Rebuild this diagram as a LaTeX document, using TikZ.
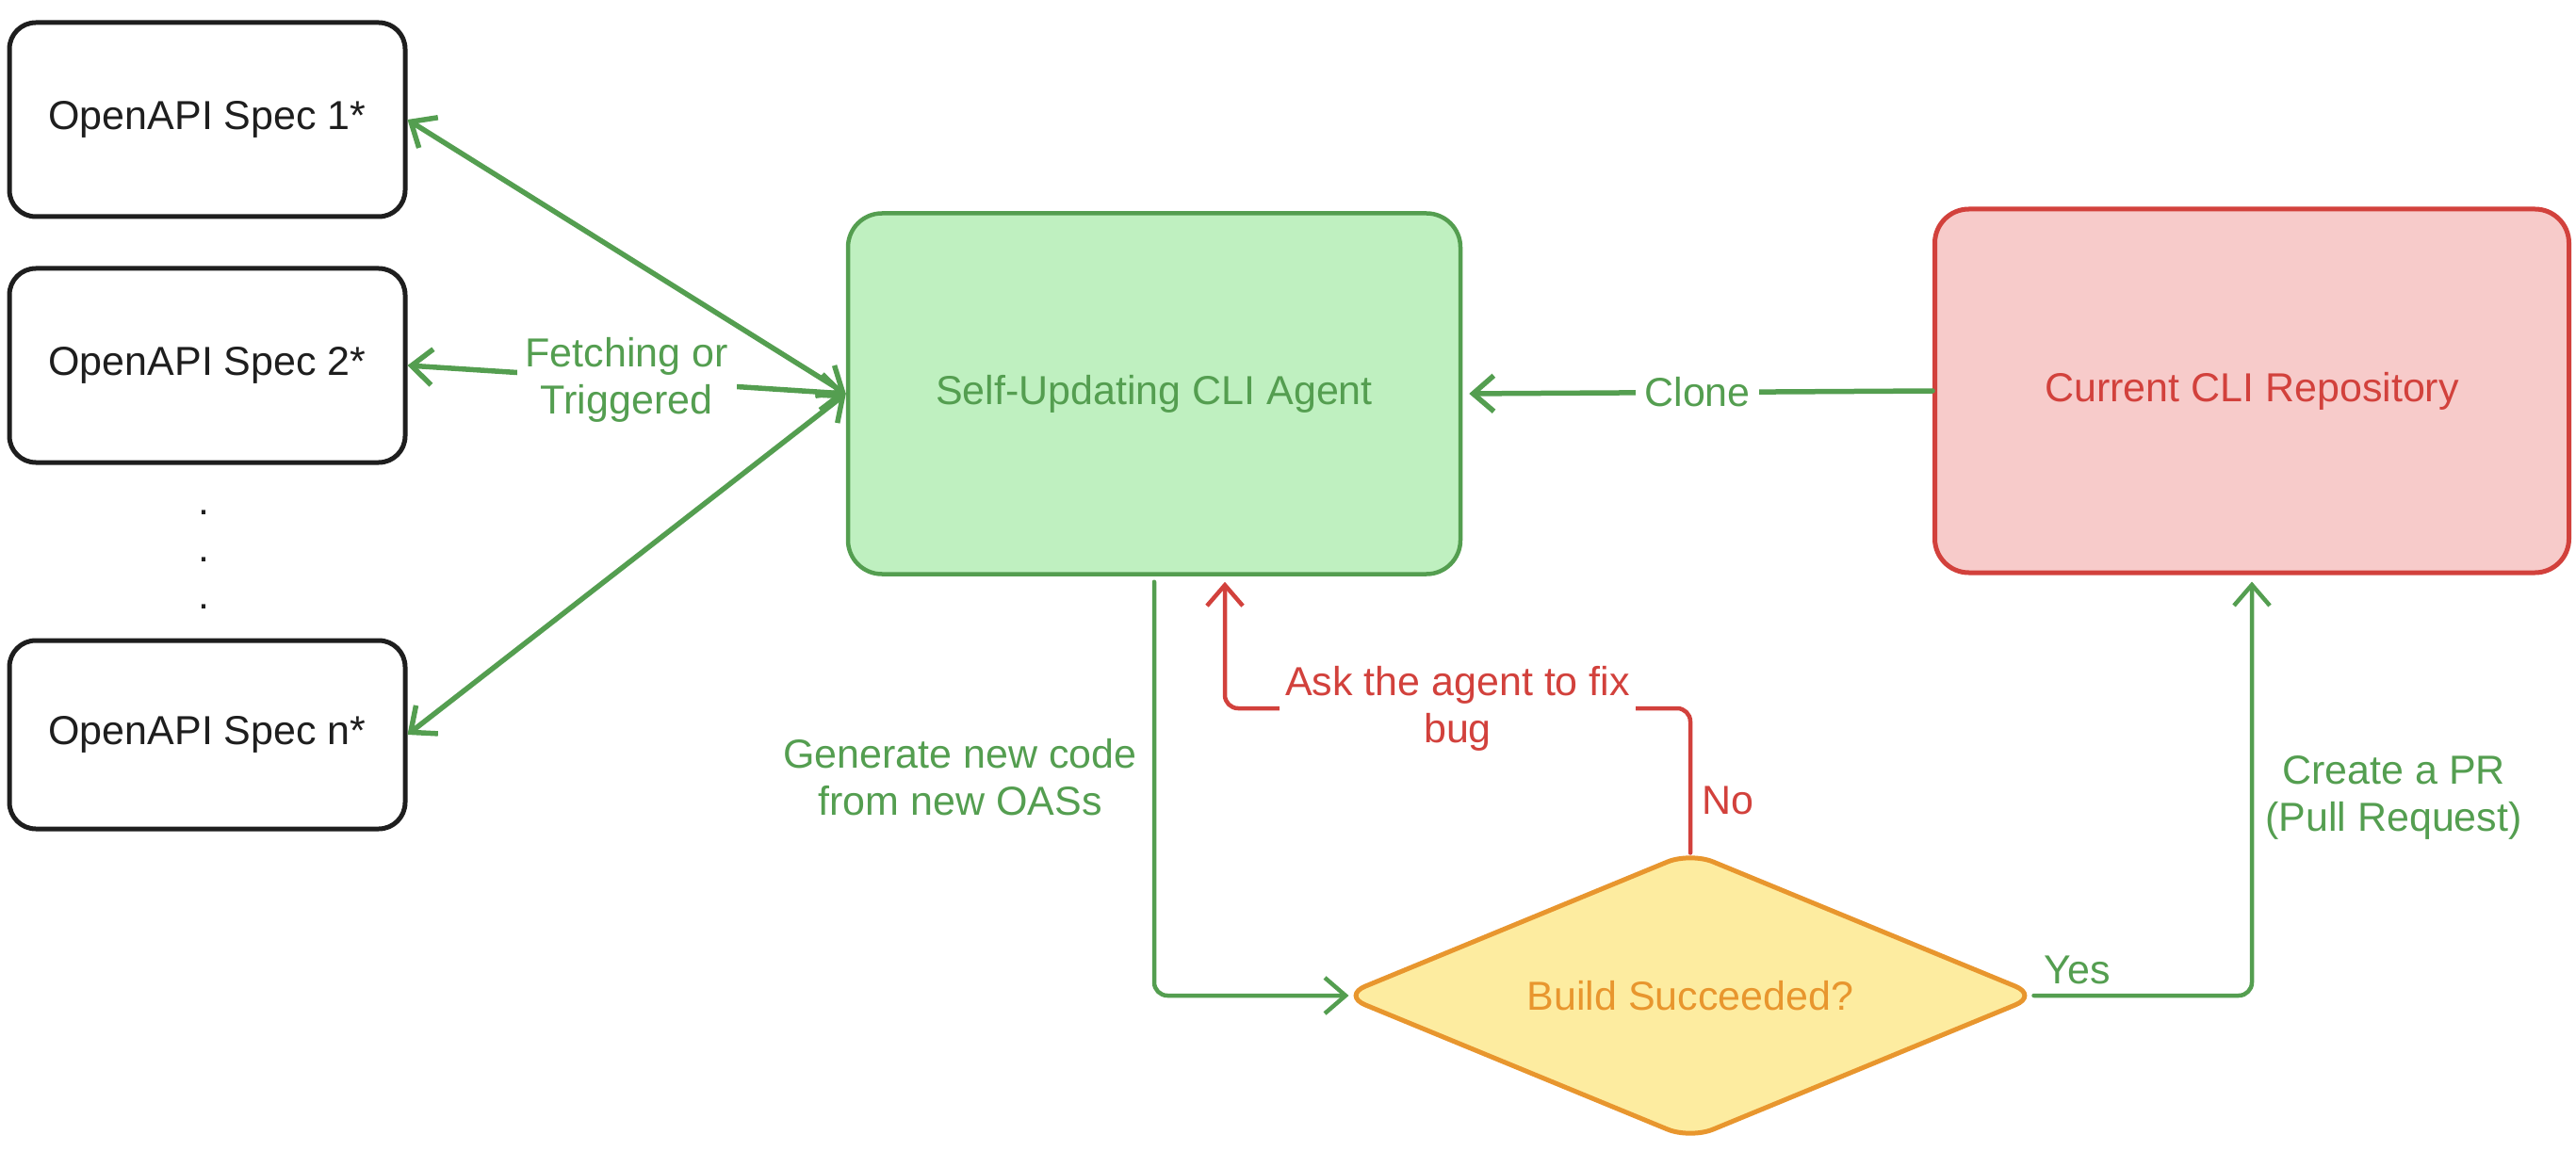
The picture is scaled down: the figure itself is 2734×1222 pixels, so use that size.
\documentclass[tikz,border=0pt]{standalone}
\usepackage{fontspec}
\setmainfont{Liberation Sans}
\usetikzlibrary{shapes.geometric,arrows.meta}
\definecolor{gstroke}{RGB}{84,158,80}
\definecolor{gfill}{RGB}{191,240,192}
\definecolor{rstroke}{RGB}{210,65,60}
\definecolor{rfill}{RGB}{247,203,202}
\definecolor{yfill}{RGB}{253,236,160}
\definecolor{ostroke}{RGB}{232,150,46}
\definecolor{ink}{RGB}{30,30,30}
\tikzset{
  specbox/.style={draw=ink, line width=5pt, rounded corners=28pt, minimum width=420pt, minimum height=206pt, text=ink, inner sep=0pt},
  agentbox/.style={draw=gstroke, fill=gfill, line width=4.5pt, rounded corners=36pt, text=gstroke, minimum width=650pt, minimum height=383pt, inner sep=0pt},
  repobox/.style={draw=rstroke, fill=rfill, line width=5pt, rounded corners=36pt, text=rstroke, minimum width=673pt, minimum height=386pt, inner sep=0pt},
  decision/.style={shape=diamond, shape aspect=2.43, draw=ostroke, fill=yfill, line width=5pt, rounded corners=26pt, text=ostroke, minimum width=740pt, minimum height=306pt, inner sep=0pt},
  garrow/.style={draw=gstroke, line width=5.5pt, line cap=round, line join=round},
  gline/.style={draw=gstroke, line width=4.5pt, line cap=round, line join=round, rounded corners=14pt},
  rline/.style={draw=rstroke, line width=4.5pt, line cap=round, line join=round, rounded corners=14pt},
  glabel/.style={text=gstroke, align=center},
  rlabel/.style={text=rstroke, align=center},
  gap/.style={fill=white, inner sep=9pt}
}
\begin{document}
\begin{tikzpicture}[x=1pt, y=-1pt, font=\fontsize{43}{50}\selectfont,
  >={Straight Barb[length=22pt,width=38pt]}]
\useasboundingbox (0,0) rectangle (2734,1222);

% nodes
\node[specbox] (s1) at (220,127) {OpenAPI Spec 1*};
\node[specbox] (s2) at (220,388) {OpenAPI Spec 2*};
\node[specbox, minimum height=200pt] (sn) at (220,780) {OpenAPI Spec n*};
\node[text=ink, align=center, inner sep=0pt] (dots) at (216,594) {.\\.\\.};
\node[agentbox] (agent) at (1225,418) {Self-Updating CLI Agent};
\node[repobox] (repo) at (2390,415) {Current CLI Repository};
\node[decision] (build) at (1794,1057) {Build Succeeded?};

% spec connectors
\draw[garrow,<->] (s1.east) -- (agent.west);
\draw[garrow,<->] (s2.east) -- node[glabel, gap] {Fetching or\\Triggered} (agent.west);
\draw[garrow,<->] (sn.east) -- (agent.west);

% clone
\draw[garrow,->,shorten >=7pt] (repo.west) -- node[glabel, gap] {Clone} (agent.east);

% generate
\draw[gline,->,shorten <=6pt] (agent.south) |- node[glabel, pos=0.24, left, inner sep=16pt] {Generate new code\\from new OASs} ([xshift=10pt]build.west);

% no -> fix
\draw[rline,->,shorten >=6pt] ([yshift=-4pt]build.north) -- node[rlabel, pos=0.36, right, inner sep=10pt] {No} (build.north |- 0,752)
  -| node[rlabel, gap, pos=0.25, inner sep=6pt] {Ask the agent to fix\\bug} ([xshift=75pt]agent.south);

% yes -> PR
\draw[gline,->,shorten >=7pt] ([xshift=-8pt]build.east) -| node[glabel, pos=0.1, anchor=south, inner sep=10pt] {Yes}
  node[glabel, pos=0.735, right, inner sep=12pt] {Create a PR\\(Pull Request)} (repo.south);
\end{tikzpicture}
\end{document}
